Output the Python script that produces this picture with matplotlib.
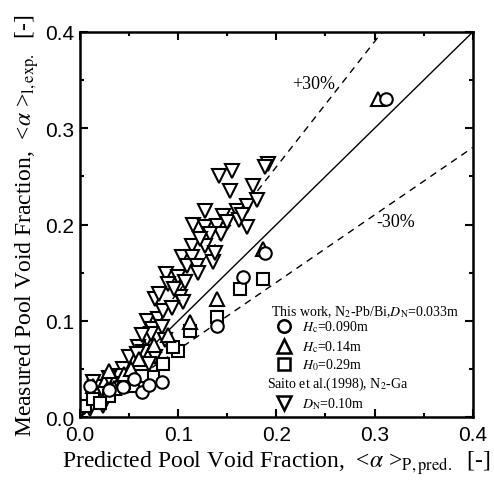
import numpy as np
import matplotlib
matplotlib.use('Agg')
import matplotlib.pyplot as plt
from matplotlib.ticker import MultipleLocator

# data (predicted, measured)
circ_x = [0.312, 0.188, 0.166, 0.140, 0.083, 0.063, 0.044, 0.010, 0.030, 0.055, 0.070]
circ_y = [0.330, 0.170, 0.146, 0.095, 0.036, 0.026, 0.031, 0.032, 0.028, 0.040, 0.033]

tri_x = [0.303, 0.186, 0.140, 0.112, 0.029, 0.013, 0.045, 0.060, 0.075, 0.035, 0.090, 0.052]
tri_y = [0.330, 0.175, 0.123, 0.099, 0.048, 0.032, 0.045, 0.060, 0.075, 0.030, 0.085, 0.050]

sq_x = [0.186, 0.163, 0.140, 0.112, 0.100, 0.095, 0.085, 0.074, 0.063, 0.054, 0.005, 0.013, 0.030, 0.045, 0.020]
sq_y = [0.143, 0.133, 0.104, 0.089, 0.069, 0.073, 0.055, 0.042, 0.043, 0.032, 0.011, 0.019, 0.022, 0.035, 0.015]

inv_x = [0.191, 0.188, 0.176, 0.142, 0.155, 0.153, 0.127, 0.146, 0.160, 0.170, 0.170,
         0.115, 0.127, 0.139, 0.144, 0.132, 0.114, 0.127, 0.104, 0.114, 0.135,
         0.088, 0.100, 0.109, 0.119, 0.090, 0.076, 0.080, 0.102, 0.105, 0.068,
         0.079, 0.073, 0.068, 0.059, 0.076, 0.054, 0.044, 0.049, 0.034, 0.015,
         0.018, 0.010, 0.013, 0.023, 0.064, 0.050,
         0.150, 0.162, 0.122, 0.137, 0.107, 0.096, 0.084, 0.094, 0.083, 0.072,
         0.063, 0.058, 0.040, 0.030, 0.024, 0.070, 0.087, 0.120, 0.165, 0.180]
inv_y = [0.263, 0.260, 0.240, 0.250, 0.256, 0.235, 0.214, 0.209, 0.214, 0.219, 0.197,
         0.200, 0.197, 0.198, 0.190, 0.190, 0.178, 0.178, 0.166, 0.166, 0.161,
         0.149, 0.145, 0.157, 0.157, 0.138, 0.123, 0.128, 0.125, 0.120, 0.100,
         0.102, 0.091, 0.081, 0.073, 0.062, 0.058, 0.050, 0.032, 0.039, 0.031,
         0.019, 0.008, 0.036, 0.011, 0.068, 0.062,
         0.203, 0.205, 0.185, 0.170, 0.140, 0.133, 0.110, 0.113, 0.094, 0.086,
         0.085, 0.066, 0.043, 0.041, 0.024, 0.055, 0.080, 0.150, 0.210, 0.225]

plt.rcParams['font.family'] = 'Liberation Serif'
plt.rcParams['mathtext.fontset'] = 'stix'

fig = plt.figure(figsize=(4.94, 4.85), dpi=100)
ax = fig.add_axes([0.162, 0.138, 0.795, 0.794])

line = np.array([0.0, 0.4])
ax.plot(line, line, 'k-', lw=1.0)
ax.plot(line, 1.3 * line, 'k--', lw=1.0, dashes=(5, 4))
ax.plot(line, 0.7 * line, 'k--', lw=1.0, dashes=(5, 4))

mk = dict(mfc='white', mec='black', mew=1.5, ms=10, ls='none')
ax.plot(inv_x, inv_y, marker='v', **mk)
ax.plot(sq_x, sq_y, marker='s', **dict(mk, ms=9))
ax.plot(tri_x, tri_y, marker='^', **mk)
ax.plot(circ_x, circ_y, marker='o', **dict(mk, ms=9))

ax.set_xlim(0, 0.4)
ax.set_ylim(0, 0.4)
ax.xaxis.set_major_locator(MultipleLocator(0.1))
ax.yaxis.set_major_locator(MultipleLocator(0.1))
ax.xaxis.set_minor_locator(MultipleLocator(0.05))
ax.yaxis.set_minor_locator(MultipleLocator(0.05))
ax.tick_params(which='both', direction='in', top=True, right=True, width=1.5)
ax.tick_params(which='major', length=6, labelsize=15, pad=4)
ax.tick_params(axis='x', which='major', pad=6)
ax.tick_params(which='minor', length=3)
for lab in ax.get_xticklabels() + ax.get_yticklabels():
    lab.set_family('Liberation Sans')
for s in ax.spines.values():
    s.set_linewidth(1.8)

ax.set_xlabel(r'Predicted Pool Void Fraction,  <$\alpha$ >$_{\rm P,pred.}$  [-]', fontsize=17, labelpad=3)
ax.set_ylabel(r'Measured Pool Void Fraction,  <$\alpha$ >$_{\rm l,exp.}$  [-]', fontsize=17, labelpad=3)

ax.text(0.238, 0.346, '+30%', fontsize=13, ha='center', va='center')
ax.text(0.322, 0.203, '-30%', fontsize=13, ha='center', va='center')

# legend drawn by hand
tx = ax.transAxes
ax.text(0.487, 0.275, r'This work, N$_2$-Pb/Bi,$D_{\rm N}$=0.033m', transform=tx, fontsize=10, va='center')
ax.plot([0.52], [0.236], marker='o', transform=tx, **dict(mk, ms=9, mew=1.8))
ax.text(0.565, 0.236, r'$H_{\rm c}$=0.090m', transform=tx, fontsize=10, va='center')
ax.plot([0.52], [0.185], marker='^', transform=tx, **dict(mk, mew=1.8))
ax.text(0.565, 0.185, r'$H_{\rm c}$=0.14m', transform=tx, fontsize=10, va='center')
ax.plot([0.52], [0.138], marker='s', transform=tx, **dict(mk, ms=9, mew=1.8))
ax.text(0.565, 0.138, r'$H_{\rm 0}$=0.29m', transform=tx, fontsize=10, va='center')
ax.text(0.475, 0.087, r'Saito et al.(1998), N$_2$-Ga', transform=tx, fontsize=10, va='center')
ax.plot([0.52], [0.036], marker='v', transform=tx, **dict(mk, mew=1.8))
ax.text(0.565, 0.036, r'$D_{\rm N}$=0.10m', transform=tx, fontsize=10, va='center')

fig.savefig('out.png', dpi=100)
